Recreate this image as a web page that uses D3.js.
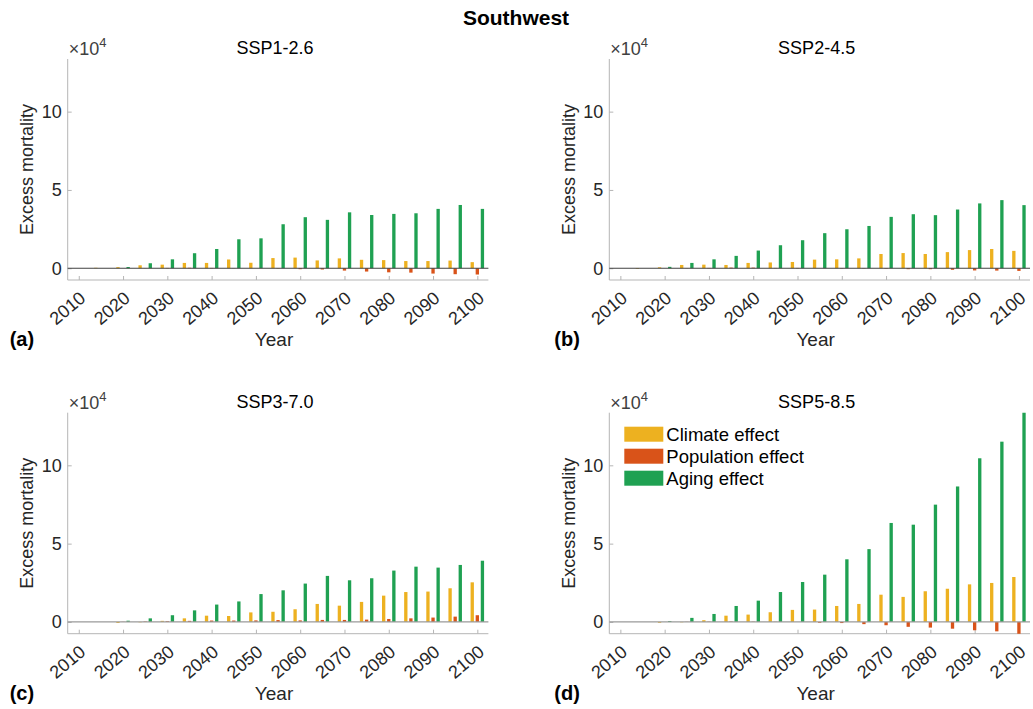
<!DOCTYPE html>
<html lang="en">
<head>
<meta charset="UTF-8">
<title>Southwest</title>
<script src="https://d3js.org/d3.v7.min.js"></script>
<style>
  body { margin: 0; background: #fff; }
  svg { font-family: Arial, "Liberation Sans", Helvetica, sans-serif; }
</style>
</head>
<body>
<div id="chart"></div>
<script>
// years of each bar group (x 10^4 excess deaths)
var years = [2015, 2020, 2025, 2030, 2035, 2040, 2045, 2050, 2055, 2060, 2065, 2070, 2075, 2080, 2085, 2090, 2095, 2100];
var xTicks = [2010, 2020, 2030, 2040, 2050, 2060, 2070, 2080, 2090, 2100];
var yTicks = [0, 5, 10];
var seriesNames = ["Climate effect", "Population effect", "Aging effect"];
var seriesColors = ["#EDB120", "#D95319", "#1FA152"];

// SSP1-2.6
var climate126 = [0.03, 0.07, 0.19, 0.23, 0.34, 0.34, 0.56, 0.35, 0.65, 0.68, 0.50, 0.63, 0.54, 0.52, 0.46, 0.46, 0.49, 0.39];
var pop126     = [0, 0, 0.01, 0.02, 0.03, 0.02, 0.01, 0, -0.02, -0.06, -0.08, -0.15, -0.21, -0.26, -0.28, -0.34, -0.38, -0.40];
var aging126   = [0, 0.08, 0.32, 0.57, 0.96, 1.23, 1.85, 1.91, 2.81, 3.26, 3.09, 3.57, 3.40, 3.47, 3.51, 3.79, 4.04, 3.79];
// SSP2-4.5
var climate245 = [-0.04, 0.06, 0.21, 0.23, 0.21, 0.34, 0.37, 0.40, 0.55, 0.57, 0.63, 0.91, 0.97, 0.91, 1.03, 1.16, 1.23, 1.11];
var pop245     = [0, 0, 0.01, 0.02, 0.04, 0.04, 0.02, 0.02, 0, -0.02, -0.02, -0.03, -0.06, -0.06, -0.10, -0.14, -0.15, -0.17];
var aging245   = [0, 0.09, 0.34, 0.57, 0.79, 1.13, 1.47, 1.79, 2.24, 2.49, 2.70, 3.28, 3.45, 3.39, 3.75, 4.14, 4.35, 4.03];
// SSP3-7.0
var climate370 = [0, -0.06, -0.02, 0.07, 0.23, 0.40, 0.38, 0.61, 0.65, 0.81, 1.15, 1.04, 1.28, 1.68, 1.91, 1.94, 2.15, 2.53];
var pop370     = [0, 0.01, 0.03, 0.05, 0.07, 0.09, 0.09, 0.10, 0.12, 0.10, 0.13, 0.13, 0.15, 0.19, 0.23, 0.28, 0.34, 0.43];
var aging370   = [0, 0.08, 0.23, 0.43, 0.74, 1.11, 1.31, 1.78, 2.02, 2.45, 2.94, 2.66, 2.79, 3.28, 3.53, 3.47, 3.64, 3.91];
// SSP5-8.5
var climate585 = [0, -0.05, -0.02, 0.11, 0.40, 0.47, 0.62, 0.77, 0.79, 1.02, 1.15, 1.74, 1.60, 1.96, 2.12, 2.40, 2.49, 2.87];
var pop585     = [0, 0, 0.01, 0.02, 0.03, 0.02, 0.01, 0, -0.05, -0.07, -0.14, -0.21, -0.31, -0.36, -0.43, -0.53, -0.60, -0.85];
var aging585   = [0, 0.06, 0.26, 0.51, 1.02, 1.36, 1.91, 2.55, 3.02, 4.00, 4.65, 6.32, 6.21, 7.49, 8.65, 10.45, 11.51, 13.45];

var panels = [
  {title: "SSP1-2.6", tag: "(a)", left: 67.7, top: 59, zero: "#404040", series: [climate126, pop126, aging126]},
  {title: "SSP2-4.5", tag: "(b)", left: 609.3, top: 59, zero: "#404040", series: [climate245, pop245, aging245]},
  {title: "SSP3-7.0", tag: "(c)", left: 67.7, top: 412.7, zero: "#9a9a9a", series: [climate370, pop370, aging370]},
  {title: "SSP5-8.5", tag: "(d)", left: 609.3, top: 412.7, zero: "#9a9a9a", series: [climate585, pop585, aging585], legend: true}
];

var W = 1033, H = 709;
var width = 420.7, height = 221;

var svg = d3.select("#chart").append("svg")
    .attr("width", W)
    .attr("height", H);

svg.append("text")
    .attr("x", 516).attr("y", 25)
    .attr("text-anchor", "middle")
    .style("font-size", "21px").style("font-weight", "bold")
    .text("Southwest");

var x = d3.scaleLinear().domain([2007.5, 2102.5]).range([0, width]);
var y = d3.scaleLinear().domain([-0.75, 13.36]).range([height, 0]);
var offset = [-1.15, 0, 1.15];
var barW = x(2000.75) - x(2000);

panels.forEach(function(p, pi) {
    var g = svg.append("g")
        .attr("transform", "translate(" + p.left + "," + p.top + ")");

    g.append("clipPath").attr("id", "clip" + pi)
      .append("rect").attr("width", width).attr("height", height);

    // y axis (ticks inside)
    var yAxis = g.append("g")
        .call(d3.axisRight(y).tickValues(yTicks).tickSize(4).tickFormat(""));
    yAxis.select(".domain").attr("stroke", "#b5b5b5").attr("d", "M0," + height + "V0");
    yAxis.selectAll(".tick line").attr("stroke", "#b5b5b5");
    g.selectAll(".ytl").data(yTicks).enter().append("text")
        .attr("x", -6).attr("y", function(d) { return y(d); })
        .attr("dy", "0.36em")
        .attr("text-anchor", "end")
        .style("font-size", "18px").style("fill", "#262626")
        .text(function(d) { return d; });

    // x axis (ticks inside)
    var xAxis = g.append("g")
        .attr("transform", "translate(0," + height + ")")
        .call(d3.axisTop(x).tickValues(xTicks).tickSize(4).tickFormat(""));
    xAxis.select(".domain").attr("stroke", "#b5b5b5").attr("d", "M0,0H" + width);
    xAxis.selectAll(".tick line").attr("stroke", "#b5b5b5");
    g.selectAll(".xtl").data(xTicks).enter().append("text")
        .attr("text-anchor", "end")
        .attr("transform", function(d) { return "translate(" + (x(d) + 8) + "," + (height + 20) + ") rotate(-40)"; })
        .style("font-size", "18px").style("fill", "#262626")
        .text(function(d) { return d; });

    // bars
    var bars = g.append("g").attr("clip-path", "url(#clip" + pi + ")");
    p.series.forEach(function(vals, si) {
        bars.selectAll(".b" + si).data(vals).enter().append("rect")
            .attr("x", function(d, i) { return x(years[i] + offset[si]) - barW / 2; })
            .attr("width", barW)
            .attr("y", function(d) { return y(Math.max(0, d)); })
            .attr("height", function(d) { return Math.abs(y(d) - y(0)); })
            .attr("fill", seriesColors[si]);
    });

    // zero line
    g.append("line")
        .attr("x1", 0).attr("x2", width)
        .attr("y1", y(0)).attr("y2", y(0))
        .attr("stroke", p.zero).attr("stroke-width", 1.2);

    // exponent
    var ex = g.append("text")
        .attr("x", 1).attr("y", -4)
        .style("font-size", "18px").style("fill", "#404040");
    ex.append("tspan").text("\u00d710");
    ex.append("tspan").attr("dy", -8).style("font-size", "13px").text("4");

    g.append("text")
        .attr("x", width / 2 - 3).attr("y", -5)
        .attr("text-anchor", "middle")
        .style("font-size", "18px").style("fill", "#000")
        .text(p.title);

    g.append("text")
        .attr("transform", "translate(-41," + (height / 2) + ") rotate(-90)")
        .attr("text-anchor", "middle")
        .attr("dy", "0.35em")
        .style("font-size", "18px").style("fill", "#262626")
        .text("Excess mortality");

    g.append("text")
        .attr("x", width / 2 - 4).attr("y", height + 66)
        .attr("text-anchor", "middle")
        .style("font-size", "19px").style("fill", "#262626")
        .text("Year");

    g.append("text")
        .attr("x", p.left < 100 ? -58 : -55).attr("y", height + 66)
        .style("font-size", "20px").style("font-weight", "bold")
        .text(p.tag);

    if (p.legend) {
        var lg = g.selectAll(".lg").data(seriesNames).enter().append("g")
            .attr("transform", function(d, i) { return "translate(15," + (14 + i * 22) + ")"; });
        lg.append("rect")
            .attr("width", 39).attr("height", 15)
            .attr("fill", function(d, i) { return seriesColors[i]; });
        lg.append("text")
            .attr("x", 42).attr("y", 7.5).attr("dy", "0.36em")
            .style("font-size", "18.5px").style("fill", "#000")
            .text(function(d) { return d; });
    }
});
</script>
</body>
</html>
